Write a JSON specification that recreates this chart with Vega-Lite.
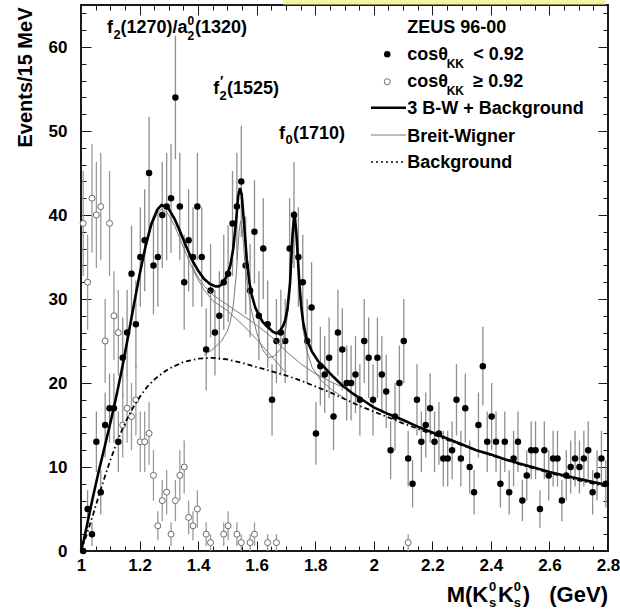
{
"$schema": "https://vega.github.io/schema/vega-lite/v6.json",
"width": 527, "height": 546,
"autosize": "none",
"padding": {"left": 81, "top": 5, "right": 12, "bottom": 61},
"background": "white",
"config": {"view": {"stroke": "#1a1a1a", "strokeWidth": 2}, "font": "Liberation Sans"},
"resolve": {"axis": {"x": "independent", "y": "independent"}},
"datasets": {
"filled": [
{"x":1.0075,"y":0,"e":0},{"x":1.0225,"y":5,"e":2.24},{"x":1.0375,"y":2,"e":1.41},{"x":1.0525,"y":13,"e":3.61},{"x":1.0675,"y":7,"e":2.65},
{"x":1.0825,"y":15,"e":3.87},{"x":1.0975,"y":17,"e":4.12},{"x":1.1125,"y":17,"e":4.12},{"x":1.1275,"y":13,"e":3.61},{"x":1.1425,"y":23,"e":4.8},
{"x":1.1575,"y":26,"e":5.1},{"x":1.1725,"y":33,"e":5.74},{"x":1.1875,"y":27,"e":5.2},{"x":1.2025,"y":35,"e":5.92},{"x":1.2175,"y":37,"e":6.08},
{"x":1.2325,"y":45,"e":6.71},{"x":1.2475,"y":34,"e":5.83},{"x":1.2625,"y":35,"e":5.92},{"x":1.2775,"y":40,"e":6.32},{"x":1.2925,"y":41,"e":6.4},
{"x":1.3075,"y":42,"e":6.48},{"x":1.3225,"y":54,"e":7.35},{"x":1.3375,"y":41,"e":6.4},{"x":1.3525,"y":32,"e":5.66},{"x":1.3675,"y":37,"e":6.08},
{"x":1.3825,"y":35,"e":5.92},{"x":1.3975,"y":41,"e":6.4},{"x":1.4125,"y":35,"e":5.92},{"x":1.4275,"y":24,"e":4.9},{"x":1.4425,"y":31,"e":5.57},
{"x":1.4575,"y":26,"e":5.1},{"x":1.4725,"y":28,"e":5.29},{"x":1.4875,"y":32,"e":5.66},{"x":1.5025,"y":33,"e":5.74},{"x":1.5175,"y":39,"e":6.24},
{"x":1.5325,"y":41,"e":6.4},{"x":1.5475,"y":44,"e":6.63},{"x":1.5625,"y":34,"e":5.83},{"x":1.5775,"y":31,"e":5.57},{"x":1.5925,"y":38,"e":6.16},
{"x":1.6075,"y":28,"e":5.29},{"x":1.6225,"y":36,"e":6},{"x":1.6375,"y":27,"e":5.2},{"x":1.6525,"y":18,"e":4.24},{"x":1.6675,"y":25,"e":5},
{"x":1.6825,"y":26,"e":5.1},{"x":1.6975,"y":25,"e":5},{"x":1.7125,"y":36,"e":6},{"x":1.7275,"y":40,"e":6.32},{"x":1.7425,"y":35,"e":5.92},
{"x":1.7575,"y":32,"e":5.66},{"x":1.7725,"y":25,"e":5},{"x":1.7875,"y":29,"e":5.39},{"x":1.8025,"y":14,"e":3.74},{"x":1.8175,"y":22,"e":4.69},
{"x":1.8325,"y":21,"e":4.58},{"x":1.8475,"y":23,"e":4.8},{"x":1.8625,"y":16,"e":4},{"x":1.8775,"y":26,"e":5.1},{"x":1.8925,"y":24,"e":4.9},
{"x":1.9075,"y":20,"e":4.47},{"x":1.9225,"y":20,"e":4.47},{"x":1.9375,"y":21,"e":4.58},{"x":1.9525,"y":18,"e":4.24},{"x":1.9675,"y":25,"e":5},
{"x":1.9825,"y":23,"e":4.8},{"x":1.9975,"y":18,"e":4.24},{"x":2.0125,"y":23,"e":4.8},{"x":2.0275,"y":21,"e":4.58},{"x":2.0425,"y":19,"e":4.36},
{"x":2.0575,"y":12,"e":3.46},{"x":2.0725,"y":16,"e":4},{"x":2.0875,"y":20,"e":4.47},{"x":2.1025,"y":25,"e":5},{"x":2.1175,"y":11,"e":3.32},
{"x":2.1325,"y":8,"e":2.83},{"x":2.1475,"y":18,"e":4.24},{"x":2.1625,"y":13,"e":3.61},{"x":2.1775,"y":15,"e":3.87},{"x":2.1925,"y":17,"e":4.12},
{"x":2.2075,"y":13,"e":3.61},{"x":2.2225,"y":14,"e":3.74},{"x":2.2375,"y":11,"e":3.32},{"x":2.2525,"y":11,"e":3.32},{"x":2.2675,"y":12,"e":3.46},
{"x":2.2825,"y":18,"e":4.24},{"x":2.2975,"y":11,"e":3.32},{"x":2.3125,"y":17,"e":4.12},{"x":2.3275,"y":10,"e":3.16},{"x":2.3425,"y":7,"e":2.65},
{"x":2.3575,"y":15,"e":3.87},{"x":2.3725,"y":22,"e":4.69},{"x":2.3875,"y":13,"e":3.61},{"x":2.4025,"y":16,"e":4},{"x":2.4175,"y":13,"e":3.61},
{"x":2.4325,"y":8,"e":2.83},{"x":2.4475,"y":13,"e":3.61},{"x":2.4625,"y":7,"e":2.65},{"x":2.4775,"y":11,"e":3.32},{"x":2.4925,"y":13,"e":3.61},
{"x":2.5075,"y":6,"e":2.45},{"x":2.5225,"y":9,"e":3},{"x":2.5375,"y":12,"e":3.46},{"x":2.5525,"y":12,"e":3.46},{"x":2.5675,"y":5,"e":2.24},
{"x":2.5825,"y":12,"e":3.46},{"x":2.5975,"y":9,"e":3},{"x":2.6125,"y":11,"e":3.32},{"x":2.6275,"y":11,"e":3.32},{"x":2.6425,"y":6,"e":2.45},
{"x":2.6575,"y":9,"e":3},{"x":2.6725,"y":10,"e":3.16},{"x":2.6875,"y":11,"e":3.32},{"x":2.7025,"y":10,"e":3.16},{"x":2.7175,"y":11,"e":3.32},
{"x":2.7325,"y":12,"e":3.46},{"x":2.7475,"y":7,"e":2.65},{"x":2.7625,"y":9,"e":3},{"x":2.7775,"y":11,"e":3.32},{"x":2.7925,"y":8,"e":2.83}
],
"open": [
{"x":1.0075,"y":39,"e":6.24},{"x":1.0225,"y":32,"e":5.66},{"x":1.0375,"y":42,"e":6.48},{"x":1.0525,"y":40,"e":6.32},{"x":1.0675,"y":41,"e":6.4},
{"x":1.0825,"y":25,"e":5},{"x":1.0975,"y":39,"e":6.24},{"x":1.1125,"y":28,"e":5.29},{"x":1.1275,"y":26,"e":5.1},{"x":1.1425,"y":15,"e":3.87},
{"x":1.1575,"y":17,"e":4.12},{"x":1.1725,"y":16,"e":4},{"x":1.1875,"y":18,"e":4.24},{"x":1.2025,"y":13,"e":3.61},{"x":1.2175,"y":13,"e":3.61},
{"x":1.2325,"y":14,"e":3.74},{"x":1.2475,"y":9,"e":3},{"x":1.2625,"y":3,"e":1.73},{"x":1.2775,"y":6,"e":2.45},{"x":1.2925,"y":7,"e":2.65},
{"x":1.3075,"y":2,"e":1.41},{"x":1.3225,"y":6,"e":2.45},{"x":1.3375,"y":9,"e":3},{"x":1.3525,"y":10,"e":3.16},{"x":1.3675,"y":4,"e":2},
{"x":1.3825,"y":3,"e":1.73},{"x":1.3975,"y":5,"e":2.24},{"x":1.4275,"y":2,"e":1.41},{"x":1.4425,"y":1,"e":1},{"x":1.4875,"y":2,"e":1.41},
{"x":1.5025,"y":3,"e":1.73},{"x":1.5325,"y":2,"e":1.41},{"x":1.5475,"y":1,"e":1},{"x":1.5775,"y":1,"e":1},{"x":1.5925,"y":2,"e":1.41},
{"x":1.6375,"y":1,"e":1},{"x":1.6675,"y":1,"e":1},{"x":2.1175,"y":1,"e":1}
],
"curves": [
{"c":"tot","x":1.0,"y":0},{"c":"tot","x":1.01,"y":1.4},{"c":"tot","x":1.02,"y":3.0},{"c":"tot","x":1.04,"y":6.3},{"c":"tot","x":1.06,"y":9.4},
{"c":"tot","x":1.08,"y":12.3},{"c":"tot","x":1.10,"y":15.2},{"c":"tot","x":1.12,"y":18.3},{"c":"tot","x":1.14,"y":21.7},{"c":"tot","x":1.16,"y":25.4},
{"c":"tot","x":1.18,"y":29.2},{"c":"tot","x":1.20,"y":32.9},{"c":"tot","x":1.22,"y":36.2},{"c":"tot","x":1.24,"y":38.9},{"c":"tot","x":1.26,"y":40.6},
{"c":"tot","x":1.275,"y":41.2},{"c":"tot","x":1.29,"y":41.0},{"c":"tot","x":1.30,"y":40.7},{"c":"tot","x":1.32,"y":39.5},{"c":"tot","x":1.34,"y":37.9},
{"c":"tot","x":1.36,"y":36.2},{"c":"tot","x":1.38,"y":34.6},{"c":"tot","x":1.40,"y":33.4},{"c":"tot","x":1.42,"y":32.4},{"c":"tot","x":1.44,"y":31.8},
{"c":"tot","x":1.46,"y":31.5},{"c":"tot","x":1.47,"y":31.5},{"c":"tot","x":1.48,"y":31.7},{"c":"tot","x":1.49,"y":32.2},{"c":"tot","x":1.50,"y":32.9},
{"c":"tot","x":1.51,"y":34.0},{"c":"tot","x":1.52,"y":36.0},{"c":"tot","x":1.53,"y":39.4},{"c":"tot","x":1.537,"y":42.3},{"c":"tot","x":1.543,"y":43.2},
{"c":"tot","x":1.549,"y":42.4},{"c":"tot","x":1.555,"y":39.8},{"c":"tot","x":1.56,"y":37.6},{"c":"tot","x":1.566,"y":34.8},{"c":"tot","x":1.575,"y":32.0},
{"c":"tot","x":1.583,"y":30.5},{"c":"tot","x":1.595,"y":29.0},{"c":"tot","x":1.606,"y":28.2},{"c":"tot","x":1.62,"y":27.3},{"c":"tot","x":1.64,"y":26.6},
{"c":"tot","x":1.655,"y":26.1},{"c":"tot","x":1.668,"y":25.9},{"c":"tot","x":1.68,"y":26.2},{"c":"tot","x":1.69,"y":26.8},{"c":"tot","x":1.697,"y":27.4},
{"c":"tot","x":1.705,"y":28.8},{"c":"tot","x":1.714,"y":31.9},{"c":"tot","x":1.722,"y":37.4},{"c":"tot","x":1.729,"y":40.4},{"c":"tot","x":1.736,"y":37.6},
{"c":"tot","x":1.746,"y":31.8},{"c":"tot","x":1.752,"y":29.2},{"c":"tot","x":1.759,"y":27.2},{"c":"tot","x":1.77,"y":25.3},{"c":"tot","x":1.788,"y":23.8},
{"c":"tot","x":1.81,"y":22.6},{"c":"tot","x":1.833,"y":21.8},{"c":"tot","x":1.86,"y":20.8},{"c":"tot","x":1.89,"y":19.8},{"c":"tot","x":1.93,"y":18.7},
{"c":"tot","x":1.97,"y":17.8},{"c":"tot","x":2.0,"y":17.1},{"c":"tot","x":2.05,"y":16.3},{"c":"tot","x":2.1,"y":15.6},{"c":"tot","x":2.15,"y":14.8},
{"c":"tot","x":2.2,"y":14.1},{"c":"tot","x":2.25,"y":13.4},{"c":"tot","x":2.3,"y":12.7},{"c":"tot","x":2.35,"y":12.0},{"c":"tot","x":2.4,"y":11.5},
{"c":"tot","x":2.45,"y":10.9},{"c":"tot","x":2.5,"y":10.4},{"c":"tot","x":2.55,"y":9.9},{"c":"tot","x":2.6,"y":9.4},{"c":"tot","x":2.65,"y":9.0},
{"c":"tot","x":2.7,"y":8.6},{"c":"tot","x":2.75,"y":8.2},{"c":"tot","x":2.79,"y":7.9},
{"c":"bg","x":1.0,"y":0},{"c":"bg","x":1.02,"y":2.0},{"c":"bg","x":1.04,"y":4.2},{"c":"bg","x":1.06,"y":6.5},{"c":"bg","x":1.08,"y":8.7},
{"c":"bg","x":1.10,"y":10.8},{"c":"bg","x":1.12,"y":12.7},{"c":"bg","x":1.14,"y":14.4},{"c":"bg","x":1.16,"y":15.9},{"c":"bg","x":1.18,"y":17.2},
{"c":"bg","x":1.20,"y":18.3},{"c":"bg","x":1.225,"y":19.5},{"c":"bg","x":1.25,"y":20.4},{"c":"bg","x":1.275,"y":21.1},{"c":"bg","x":1.30,"y":21.7},
{"c":"bg","x":1.35,"y":22.5},{"c":"bg","x":1.40,"y":22.9},{"c":"bg","x":1.45,"y":23.0},{"c":"bg","x":1.50,"y":22.8},{"c":"bg","x":1.55,"y":22.4},
{"c":"bg","x":1.60,"y":21.9},{"c":"bg","x":1.65,"y":21.4},{"c":"bg","x":1.70,"y":20.9},{"c":"bg","x":1.75,"y":20.3},{"c":"bg","x":1.80,"y":19.6},
{"c":"bg","x":1.85,"y":18.9},{"c":"bg","x":1.90,"y":18.1},{"c":"bg","x":1.95,"y":17.3},{"c":"bg","x":2.0,"y":16.6},{"c":"bg","x":2.1,"y":15.2},
{"c":"bg","x":2.2,"y":13.9},{"c":"bg","x":2.3,"y":12.6},{"c":"bg","x":2.4,"y":11.4},{"c":"bg","x":2.5,"y":10.3},{"c":"bg","x":2.6,"y":9.3},
{"c":"bg","x":2.7,"y":8.4},{"c":"bg","x":2.79,"y":7.7},
{"c":"A","x":1.0,"y":0},{"c":"A","x":1.01,"y":1.4},{"c":"A","x":1.02,"y":3.0},{"c":"A","x":1.04,"y":6.3},{"c":"A","x":1.06,"y":9.4},
{"c":"A","x":1.08,"y":12.3},{"c":"A","x":1.10,"y":15.2},{"c":"A","x":1.12,"y":18.3},{"c":"A","x":1.14,"y":21.7},{"c":"A","x":1.16,"y":25.4},
{"c":"A","x":1.18,"y":29.2},{"c":"A","x":1.20,"y":32.8},{"c":"A","x":1.22,"y":36.0},{"c":"A","x":1.24,"y":38.6},{"c":"A","x":1.26,"y":40.2},
{"c":"A","x":1.275,"y":40.7},{"c":"A","x":1.29,"y":40.4},{"c":"A","x":1.30,"y":40.0},{"c":"A","x":1.32,"y":38.7},{"c":"A","x":1.34,"y":37.0},
{"c":"A","x":1.36,"y":35.3},{"c":"A","x":1.38,"y":33.7},{"c":"A","x":1.40,"y":32.3},{"c":"A","x":1.42,"y":31.1},{"c":"A","x":1.45,"y":29.8},
{"c":"A","x":1.50,"y":28.6},{"c":"A","x":1.55,"y":27.0},{"c":"A","x":1.60,"y":25.2},{"c":"A","x":1.65,"y":23.2},{"c":"A","x":1.70,"y":21.2},
{"c":"B","x":1.38,"y":33.9},{"c":"B","x":1.40,"y":32.6},{"c":"B","x":1.42,"y":31.6},{"c":"B","x":1.45,"y":30.5},{"c":"B","x":1.50,"y":29.3},
{"c":"B","x":1.55,"y":28.1},{"c":"B","x":1.60,"y":26.9},{"c":"B","x":1.65,"y":25.5},{"c":"B","x":1.70,"y":23.8},{"c":"B","x":1.75,"y":22.3},
{"c":"B","x":1.80,"y":21.1},{"c":"B","x":1.85,"y":20.2},{"c":"B","x":1.90,"y":19.4},
{"c":"C","x":1.42,"y":23.3},{"c":"C","x":1.45,"y":24.0},{"c":"C","x":1.48,"y":25.0},{"c":"C","x":1.50,"y":26.2},{"c":"C","x":1.51,"y":27.3},
{"c":"C","x":1.52,"y":29.2},{"c":"C","x":1.53,"y":32.8},{"c":"C","x":1.535,"y":35.5},{"c":"C","x":1.54,"y":38.0},{"c":"C","x":1.545,"y":39.3},
{"c":"C","x":1.55,"y":38.6},{"c":"C","x":1.555,"y":36.6},{"c":"C","x":1.56,"y":34.2},{"c":"C","x":1.57,"y":31.3},{"c":"C","x":1.58,"y":29.0},
{"c":"C","x":1.60,"y":26.0},{"c":"C","x":1.62,"y":24.0},{"c":"C","x":1.64,"y":23.0},{"c":"C","x":1.66,"y":23.2},{"c":"C","x":1.68,"y":24.0},
{"c":"C","x":1.69,"y":25.0},{"c":"C","x":1.70,"y":26.6},{"c":"C","x":1.71,"y":29.6},{"c":"C","x":1.72,"y":34.5},{"c":"C","x":1.725,"y":37.5},
{"c":"C","x":1.73,"y":38.8},{"c":"C","x":1.735,"y":37.6},{"c":"C","x":1.74,"y":34.8},{"c":"C","x":1.75,"y":29.6},{"c":"C","x":1.76,"y":26.2},
{"c":"C","x":1.77,"y":24.0},{"c":"C","x":1.79,"y":21.8},{"c":"C","x":1.82,"y":20.3},{"c":"C","x":1.86,"y":19.1},{"c":"C","x":1.90,"y":18.2}
]
},
"layer": [
{"data":{"values":[{}]},"mark":{"type":"rect","color":"#f6f4a2"},
 "encoding":{"x":{"datum":1.69,"axis":null},"x2":{"datum":2.793},"y":{"datum":65.05,"axis":null},"y2":{"datum":65.6}}},
{"data":{"name":"filled"},"mark":{"type":"errorbar","color":"#8f8f8f","thickness":1.3},
 "encoding":{"x":{"field":"x","type":"quantitative","axis":null},"y":{"field":"y","type":"quantitative","axis":null},"yError":{"field":"e"}}},
{"data":{"name":"open"},"mark":{"type":"errorbar","color":"#9a9a9a","thickness":1.3},
 "encoding":{"x":{"field":"x","type":"quantitative","axis":null},"y":{"field":"y","type":"quantitative","axis":null},"yError":{"field":"e"}}},
{"data":{"name":"open"},"mark":{"type":"point","shape":"circle","filled":false,"fill":"white","fillOpacity":1,"stroke":"#6a6a6a","strokeWidth":1,"size":36,"opacity":1},
 "encoding":{
  "x":{"field":"x","type":"quantitative","scale":{"domain":[1,2.8],"nice":false,"zero":false},
   "axis":{"orient":"top","values":[1,1.05,1.1,1.15,1.2,1.25,1.3,1.35,1.4,1.45,1.5,1.55,1.6,1.65,1.7,1.75,1.8,1.85,1.9,1.95,2,2.05,2.1,2.15,2.2,2.25,2.3,2.35,2.4,2.45,2.5,2.55,2.6,2.65,2.7,2.75,2.8],
    "labels":false,"domain":false,"grid":false,"title":null,"tickColor":"#1a1a1a","tickWidth":1,
    "tickSize":{"condition":{"test":"abs(datum.value*5-round(datum.value*5))<0.001","value":-10},"value":-5}}},
  "y":{"field":"y","type":"quantitative","scale":{"domain":[0,65],"nice":false,"zero":false},
   "axis":{"orient":"right","values":[0,2,4,6,8,10,12,14,16,18,20,22,24,26,28,30,32,34,36,38,40,42,44,46,48,50,52,54,56,58,60,62,64],
    "labels":false,"domain":false,"grid":false,"title":null,"tickColor":"#1a1a1a","tickWidth":1,
    "tickSize":{"condition":{"test":"datum.value % 10 == 0","value":-10},"value":-5}}}}},
{"data":{"name":"filled"},"mark":{"type":"point","shape":"circle","filled":true,"color":"black","size":42,"opacity":1},
 "encoding":{
  "x":{"field":"x","type":"quantitative","scale":{"domain":[1,2.8],"nice":false,"zero":false},
   "axis":{"orient":"bottom","values":[1,1.05,1.1,1.15,1.2,1.25,1.3,1.35,1.4,1.45,1.5,1.55,1.6,1.65,1.7,1.75,1.8,1.85,1.9,1.95,2,2.05,2.1,2.15,2.2,2.25,2.3,2.35,2.4,2.45,2.5,2.55,2.6,2.65,2.7,2.75,2.8],
    "format":"~g","labelExpr":"abs(datum.value*5-round(datum.value*5))<0.001 ? datum.label : ''",
    "labelFont":"Liberation Sans","labelFontSize":17,"labelFontWeight":"bold","labelColor":"black","labelPadding":16,"labelBaseline":"top",
    "labelFlush":false,"labelOverlap":false,"labelBound":false,
    "domain":false,"grid":false,"title":null,"tickColor":"#1a1a1a","tickWidth":1,
    "tickSize":{"condition":{"test":"abs(datum.value*5-round(datum.value*5))<0.001","value":-10},"value":-5}}},
  "y":{"field":"y","type":"quantitative","scale":{"domain":[0,65],"nice":false,"zero":false},
   "axis":{"orient":"left","values":[0,2,4,6,8,10,12,14,16,18,20,22,24,26,28,30,32,34,36,38,40,42,44,46,48,50,52,54,56,58,60,62,64],
    "format":"~g","labelExpr":"datum.value % 10 == 0 ? datum.label : ''",
    "labelFont":"Liberation Sans","labelFontSize":17,"labelFontWeight":"bold","labelColor":"black","labelPadding":24,
    "labelFlush":false,"labelOverlap":false,"labelBound":false,
    "domain":false,"grid":false,"tickColor":"#1a1a1a","tickWidth":1,
    "tickSize":{"condition":{"test":"datum.value % 10 == 0","value":-10},"value":-5},
    "title":"Events/15 MeV","titleFont":"Liberation Sans","titleFontSize":20,"titleFontWeight":"bold","titleColor":"black",
    "titleAngle":270,"titleAlign":"right","titleBaseline":"middle","titleX":-56,"titleY":2}}}},
{"data":{"name":"curves"},"transform":[{"filter":"datum.c=='A'"}],"mark":{"type":"line","color":"#7a7a7a","strokeWidth":1},
 "encoding":{"x":{"field":"x","type":"quantitative","axis":null},"y":{"field":"y","type":"quantitative","axis":null}}},
{"data":{"name":"curves"},"transform":[{"filter":"datum.c=='B'"}],"mark":{"type":"line","color":"#7a7a7a","strokeWidth":1},
 "encoding":{"x":{"field":"x","type":"quantitative","axis":null},"y":{"field":"y","type":"quantitative","axis":null}}},
{"data":{"name":"curves"},"transform":[{"filter":"datum.c=='C'"}],"mark":{"type":"line","color":"#7a7a7a","strokeWidth":1},
 "encoding":{"x":{"field":"x","type":"quantitative","axis":null},"y":{"field":"y","type":"quantitative","axis":null}}},
{"data":{"name":"curves"},"transform":[{"filter":"datum.c=='bg'"}],"mark":{"type":"line","color":"black","strokeWidth":1.8,"strokeDash":[5,3,1.5,3]},
 "encoding":{"x":{"field":"x","type":"quantitative","axis":null},"y":{"field":"y","type":"quantitative","axis":null}}},
{"data":{"name":"curves"},"transform":[{"filter":"datum.c=='tot'"}],"mark":{"type":"line","color":"black","strokeWidth":2.6},
 "encoding":{"x":{"field":"x","type":"quantitative","axis":null},"y":{"field":"y","type":"quantitative","axis":null}}},

{"data":{"values":[{}]},"mark":{"type":"point","shape":"circle","filled":true,"color":"black","size":42,"opacity":1},
 "encoding":{"x":{"datum":2.0461,"axis":null},"y":{"datum":59.13,"axis":null}}},
{"data":{"values":[{}]},"mark":{"type":"point","shape":"circle","filled":false,"fill":"white","fillOpacity":1,"stroke":"#6a6a6a","strokeWidth":1,"size":36,"opacity":1},
 "encoding":{"x":{"datum":2.0461,"axis":null},"y":{"datum":55.87,"axis":null}}},
{"data":{"values":[{}]},"mark":{"type":"rule","color":"black","strokeWidth":2.6},
 "encoding":{"x":{"datum":1.9904,"axis":null},"x2":{"datum":2.11},"y":{"datum":52.77,"axis":null}}},
{"data":{"values":[{}]},"mark":{"type":"rule","color":"#7a7a7a","strokeWidth":1},
 "encoding":{"x":{"datum":1.9904,"axis":null},"x2":{"datum":2.11},"y":{"datum":49.52,"axis":null}}},
{"data":{"values":[{}]},"mark":{"type":"rule","color":"black","strokeWidth":1.5,"strokeDash":[2,3]},
 "encoding":{"x":{"datum":1.9904,"axis":null},"x2":{"datum":2.11},"y":{"datum":46.31,"axis":null}}},

{"data":{"values":[{}]},"mark":{"type":"text","text":"ZEUS 96-00","align":"left","baseline":"alphabetic","fontSize":18,"fontWeight":"bold","color":"black"},
 "encoding":{"x":{"datum":2.1144,"axis":null},"y":{"datum":61.63,"axis":null}}},
{"data":{"values":[{}]},"mark":{"type":"text","text":"cosθ","align":"left","baseline":"alphabetic","fontSize":18,"fontWeight":"bold","color":"black"},
 "encoding":{"x":{"datum":2.1144,"axis":null},"y":{"datum":58.45,"axis":null}}},
{"data":{"values":[{}]},"mark":{"type":"text","text":"KK","align":"left","baseline":"alphabetic","fontSize":12,"fontWeight":"bold","color":"black"},
 "encoding":{"x":{"datum":2.2489,"axis":null},"y":{"datum":57.54,"axis":null}}},
{"data":{"values":[{}]},"mark":{"type":"text","text":"< 0.92","align":"left","baseline":"alphabetic","fontSize":18,"fontWeight":"bold","color":"black"},
 "encoding":{"x":{"datum":2.3398,"axis":null},"y":{"datum":58.45,"axis":null}}},
{"data":{"values":[{}]},"mark":{"type":"text","text":"cosθ","align":"left","baseline":"alphabetic","fontSize":18,"fontWeight":"bold","color":"black"},
 "encoding":{"x":{"datum":2.1144,"axis":null},"y":{"datum":55.2,"axis":null}}},
{"data":{"values":[{}]},"mark":{"type":"text","text":"KK","align":"left","baseline":"alphabetic","fontSize":12,"fontWeight":"bold","color":"black"},
 "encoding":{"x":{"datum":2.2489,"axis":null},"y":{"datum":54.29,"axis":null}}},
{"data":{"values":[{}]},"mark":{"type":"text","text":"≥ 0.92","align":"left","baseline":"alphabetic","fontSize":18,"fontWeight":"bold","color":"black"},
 "encoding":{"x":{"datum":2.3398,"axis":null},"y":{"datum":55.2,"axis":null}}},
{"data":{"values":[{}]},"mark":{"type":"text","text":"3 B-W + Background","align":"left","baseline":"alphabetic","fontSize":18,"fontWeight":"bold","color":"black"},
 "encoding":{"x":{"datum":2.1144,"axis":null},"y":{"datum":52.02,"axis":null}}},
{"data":{"values":[{}]},"mark":{"type":"text","text":"Breit-Wigner","align":"left","baseline":"alphabetic","fontSize":18,"fontWeight":"bold","color":"black"},
 "encoding":{"x":{"datum":2.1144,"axis":null},"y":{"datum":48.73,"axis":null}}},
{"data":{"values":[{}]},"mark":{"type":"text","text":"Background","align":"left","baseline":"alphabetic","fontSize":18,"fontWeight":"bold","color":"black"},
 "encoding":{"x":{"datum":2.1144,"axis":null},"y":{"datum":45.56,"axis":null}}},

{"data":{"values":[{}]},"mark":{"type":"text","text":"f","align":"left","baseline":"alphabetic","fontSize":18,"fontWeight":"bold","color":"black"},
 "encoding":{"x":{"datum":1.0888,"axis":null},"y":{"datum":61.67,"axis":null}}},
{"data":{"values":[{}]},"mark":{"type":"text","text":"2","align":"left","baseline":"alphabetic","fontSize":13,"fontWeight":"bold","color":"black"},
 "encoding":{"x":{"datum":1.111,"axis":null},"y":{"datum":60.92,"axis":null}}},
{"data":{"values":[{}]},"mark":{"type":"text","text":"(1270)/a","align":"left","baseline":"alphabetic","fontSize":18,"fontWeight":"bold","color":"black"},
 "encoding":{"x":{"datum":1.1349,"axis":null},"y":{"datum":61.67,"axis":null}}},
{"data":{"values":[{}]},"mark":{"type":"text","text":"0","align":"left","baseline":"alphabetic","fontSize":12,"fontWeight":"bold","color":"black"},
 "encoding":{"x":{"datum":1.3637,"axis":null},"y":{"datum":62.62,"axis":null}}},
{"data":{"values":[{}]},"mark":{"type":"text","text":"2","align":"left","baseline":"alphabetic","fontSize":12,"fontWeight":"bold","color":"black"},
 "encoding":{"x":{"datum":1.3637,"axis":null},"y":{"datum":60.8,"axis":null}}},
{"data":{"values":[{}]},"mark":{"type":"text","text":"(1320)","align":"left","baseline":"alphabetic","fontSize":18,"fontWeight":"bold","color":"black"},
 "encoding":{"x":{"datum":1.3893,"axis":null},"y":{"datum":61.67,"axis":null}}},

{"data":{"values":[{}]},"mark":{"type":"text","text":"f","align":"left","baseline":"alphabetic","fontSize":18,"fontWeight":"bold","color":"black"},
 "encoding":{"x":{"datum":1.4518,"axis":null},"y":{"datum":54.43,"axis":null}}},
{"data":{"values":[{}]},"mark":{"type":"text","text":"′","align":"left","baseline":"alphabetic","fontSize":14,"fontWeight":"bold","color":"black"},
 "encoding":{"x":{"datum":1.4745,"axis":null},"y":{"datum":55.3,"axis":null}}},
{"data":{"values":[{}]},"mark":{"type":"text","text":"2","align":"left","baseline":"alphabetic","fontSize":13,"fontWeight":"bold","color":"black"},
 "encoding":{"x":{"datum":1.473,"axis":null},"y":{"datum":53.69,"axis":null}}},
{"data":{"values":[{}]},"mark":{"type":"text","text":"(1525)","align":"left","baseline":"alphabetic","fontSize":18,"fontWeight":"bold","color":"black"},
 "encoding":{"x":{"datum":1.4986,"axis":null},"y":{"datum":54.43,"axis":null}}},

{"data":{"values":[{}]},"mark":{"type":"text","text":"f","align":"left","baseline":"alphabetic","fontSize":18,"fontWeight":"bold","color":"black"},
 "encoding":{"x":{"datum":1.6762,"axis":null},"y":{"datum":48.99,"axis":null}}},
{"data":{"values":[{}]},"mark":{"type":"text","text":"0","align":"left","baseline":"alphabetic","fontSize":13,"fontWeight":"bold","color":"black"},
 "encoding":{"x":{"datum":1.6984,"axis":null},"y":{"datum":48.45,"axis":null}}},
{"data":{"values":[{}]},"mark":{"type":"text","text":"(1710)","align":"left","baseline":"alphabetic","fontSize":18,"fontWeight":"bold","color":"black"},
 "encoding":{"x":{"datum":1.724,"axis":null},"y":{"datum":48.99,"axis":null}}},

{"data":{"values":[{}]},"mark":{"type":"text","text":"M(K","align":"left","baseline":"alphabetic","fontSize":22,"fontWeight":"bold","color":"black"},
 "encoding":{"x":{"datum":2.249,"axis":null},"y":{"datum":-6.04,"axis":null}}},
{"data":{"values":[{}]},"mark":{"type":"text","text":"0","align":"left","baseline":"alphabetic","fontSize":13,"fontWeight":"bold","color":"black"},
 "encoding":{"x":{"datum":2.3935,"axis":null},"y":{"datum":-4.76,"axis":null}}},
{"data":{"values":[{}]},"mark":{"type":"text","text":"s","align":"left","baseline":"alphabetic","fontSize":13,"fontWeight":"bold","color":"black"},
 "encoding":{"x":{"datum":2.3935,"axis":null},"y":{"datum":-6.67,"axis":null}}},
{"data":{"values":[{}]},"mark":{"type":"text","text":"K","align":"left","baseline":"alphabetic","fontSize":22,"fontWeight":"bold","color":"black"},
 "encoding":{"x":{"datum":2.4241,"axis":null},"y":{"datum":-6.04,"axis":null}}},
{"data":{"values":[{}]},"mark":{"type":"text","text":"0","align":"left","baseline":"alphabetic","fontSize":13,"fontWeight":"bold","color":"black"},
 "encoding":{"x":{"datum":2.4785,"axis":null},"y":{"datum":-4.76,"axis":null}}},
{"data":{"values":[{}]},"mark":{"type":"text","text":"s","align":"left","baseline":"alphabetic","fontSize":13,"fontWeight":"bold","color":"black"},
 "encoding":{"x":{"datum":2.4785,"axis":null},"y":{"datum":-6.67,"axis":null}}},
{"data":{"values":[{}]},"mark":{"type":"text","text":")","align":"left","baseline":"alphabetic","fontSize":22,"fontWeight":"bold","color":"black"},
 "encoding":{"x":{"datum":2.5092,"axis":null},"y":{"datum":-6.04,"axis":null}}},
{"data":{"values":[{}]},"mark":{"type":"text","text":"(GeV)","align":"right","baseline":"alphabetic","fontSize":22,"fontWeight":"bold","color":"black"},
 "encoding":{"x":{"datum":2.7999,"axis":null},"y":{"datum":-6.04,"axis":null}}}
]
}
